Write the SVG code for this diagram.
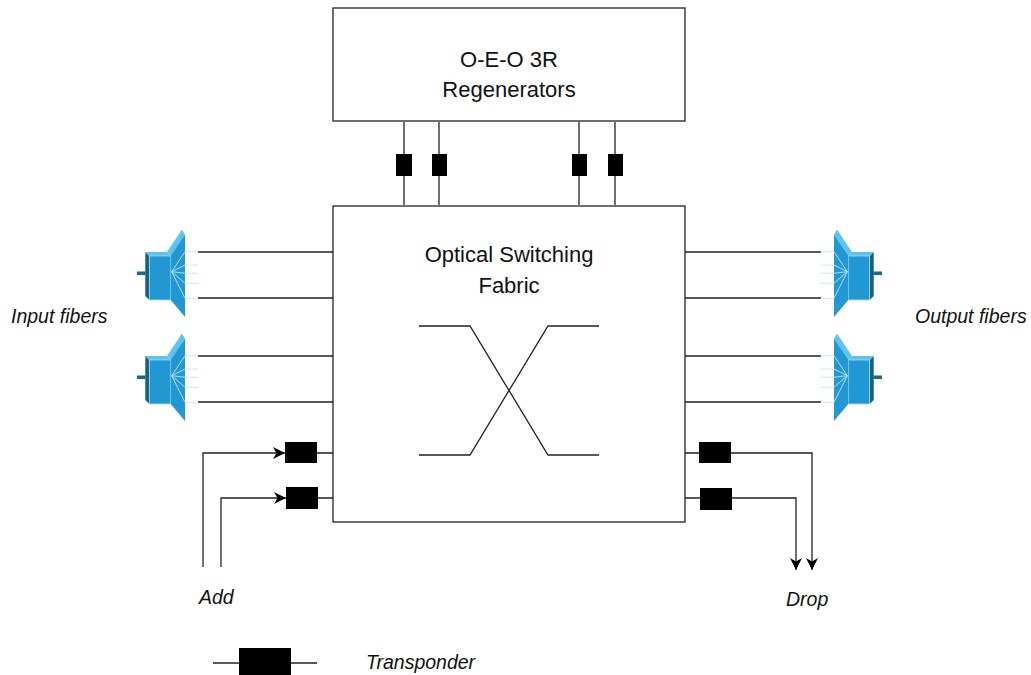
<svg xmlns="http://www.w3.org/2000/svg" xmlns:xlink="http://www.w3.org/1999/xlink" width="1031" height="675" viewBox="0 0 1031 675">
<style>
.box{fill:#fff;stroke:#222;stroke-width:1.3}
.ln{fill:none;stroke:#222;stroke-width:1.3}
.tp{fill:#000}
.t{font-family:"Liberation Sans",Arial,sans-serif;font-size:22px;fill:#111;text-anchor:middle}
.it{font-family:"Liberation Sans",Arial,sans-serif;font-size:19.5px;font-style:italic;fill:#111}
.fan{fill:none;stroke:#bfe7f8;stroke-width:0.9}
</style>
<defs>
<marker id="arr" markerUnits="userSpaceOnUse" markerWidth="13" markerHeight="12" refX="12" refY="6" orient="auto">
<path d="M0,0 L12,6 L0,12 L3.5,6 z" fill="#000"/>
</marker>
<g id="spk">
<rect x="7" y="51.5" width="8.5" height="3.5" fill="#16698f"/>
<polygon points="15.3,32 19.3,36 19.3,80 15.3,76" fill="#135f82"/>
<polygon points="15.3,32 37,32 40.7,36 19.3,36" fill="#5ec3ee"/>
<rect x="19.3" y="36" width="21.4" height="44" fill="#2197d3" stroke="#a9dcf3" stroke-width="0.8"/>
<polygon points="40.7,36 51.7,10 55,15 55,97 40.7,80" fill="#2197d3"/>
<polygon points="37,32 51.7,10 55,15 40.7,36" fill="#5ec3ee"/>
<path class="fan" d="M41.7,51.7 L55,31.7 H68.3 M41.7,51.7 L55,45 H68.3 M41.7,51.7 L55,53.3 H68.3 M41.7,51.7 L55,63.3 H68.3 M41.7,51.7 L55,78.3 H68.3"/>
</g>
</defs>

<g id="connectors">
<path class="ln" d="M404,122 V205 M439,122 V205 M579,122 V205 M615,122 V205"/>
<path class="ln" d="M198,252 H333 M198,298 H333 M198,356 H333 M198,402 H333"/>
<path class="ln" d="M685,252 H821 M685,298 H821 M685,356 H821 M685,402 H821"/>
<path class="ln" d="M203,567 V453 H285" marker-end="url(#arr)"/>
<path class="ln" d="M221,567 V498 H286" marker-end="url(#arr)"/>
<path class="ln" d="M317,453 H333 M318,498 H333"/>
<path class="ln" d="M685,453 H699 M685,498 H700"/>
<path class="ln" d="M731,453 H812 V570" marker-end="url(#arr)"/>
<path class="ln" d="M732,498 H796 V570" marker-end="url(#arr)"/>
<path class="ln" d="M213,663 H317"/>
</g>

<g id="regenerators">
<rect class="box" x="333" y="8" width="352" height="113"/>
<text class="t" x="509" y="67">O-E-O 3R</text>
<text class="t" x="509" y="97">Regenerators</text>
</g>

<g id="switch-fabric">
<rect class="box" x="333" y="206" width="352" height="316"/>
<text class="t" x="509" y="262">Optical Switching</text>
<text class="t" x="509" y="293">Fabric</text>
<path class="ln" d="M419,326 H470 L548,455 H599 M419,455 H470 L548,326 H599"/>
</g>

<g id="regen-transponders">
<rect class="tp" x="396" y="154" width="16" height="22"/>
<rect class="tp" x="432" y="154" width="15" height="22"/>
<rect class="tp" x="572" y="154" width="15" height="22"/>
<rect class="tp" x="608" y="154" width="15" height="22"/>
</g>

<g id="add-transponders">
<rect class="tp" x="285" y="442" width="32" height="21"/>
<rect class="tp" x="286" y="487" width="32" height="22"/>
</g>

<g id="drop-transponders">
<rect class="tp" x="699" y="442" width="32" height="21"/>
<rect class="tp" x="700" y="488" width="32" height="22"/>
</g>

<g id="input-fiber-1"><use xlink:href="#spk" href="#spk" transform="translate(130,220)"/></g>
<g id="input-fiber-2"><use xlink:href="#spk" href="#spk" transform="translate(130,324)"/></g>
<g id="output-fiber-1"><use xlink:href="#spk" href="#spk" transform="translate(889,220) scale(-1,1)"/></g>
<g id="output-fiber-2"><use xlink:href="#spk" href="#spk" transform="translate(889,324) scale(-1,1)"/></g>

<g id="labels">
<text class="it" x="11" y="323">Input fibers</text>
<text class="it" x="915" y="323">Output fibers</text>
<text class="it" x="199" y="604">Add</text>
<text class="it" x="786" y="606">Drop</text>
</g>

<g id="legend">
<rect class="tp" x="239" y="648" width="52" height="28"/>
<text class="it" x="366" y="669">Transponder</text>
</g>
</svg>
